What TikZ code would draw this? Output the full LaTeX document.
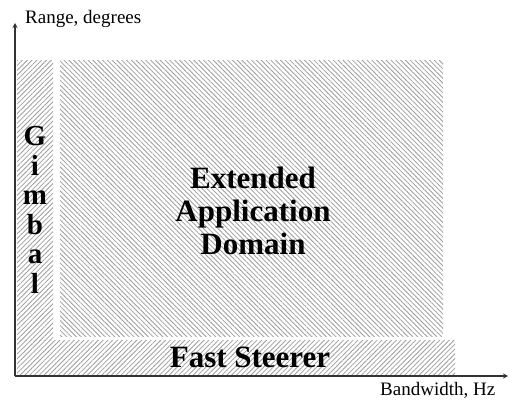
\documentclass[tikz,border=0pt]{standalone}
\usepackage{fontspec}
\setmainfont{Liberation Serif}
\usetikzlibrary{patterns.meta,arrows.meta}
\begin{document}
\begin{tikzpicture}[x=1pt,y=1pt,
  hatchne/.style={pattern={Lines[angle=45,distance=3.4pt,line width=0.8pt]},pattern color=black!38},
  hatchnw/.style={pattern={Lines[angle=-45,distance=3.4pt,line width=0.8pt]},pattern color=black!38},
  axisline/.style={line width=1.6pt,draw=black!80,-{Stealth[length=5pt,width=5pt]}},
  biglabel/.style={font=\bfseries\fontsize{31}{33}\selectfont,inner sep=0pt,align=center},
  smalllabel/.style={font=\fontsize{19}{22}\selectfont,inner sep=0pt,anchor=base west}]
\useasboundingbox (0,0) rectangle (510,400);
% regions
\path[hatchne] (17,60) rectangle (53,340);
\path[hatchne] (17,25) rectangle (455,60);
\path[hatchnw] (60,64) rectangle (443,340);
% axes
\coordinate (o) at (15,24);
\coordinate (xend) at (508,24);
\coordinate (yend) at (15,377);
\draw[axisline] (o) -- (xend);
\draw[axisline] (o) -- (yend);
% labels
\node[smalllabel] (range) at (25,377) {Range, degrees};
\node[smalllabel] (bw) at (380,5) {Bandwidth, Hz};
\node[biglabel] (ext) at (253,189) {Extended\\Application\\Domain};
\node[biglabel,anchor=base] (fast) at (250,33) {Fast Steerer};
\node[biglabel,font=\bfseries\fontsize{29}{29.5}\selectfont] (gimbal) at (35,190) {G\\i\\m\\b\\a\\l};
\end{tikzpicture}
\end{document}
